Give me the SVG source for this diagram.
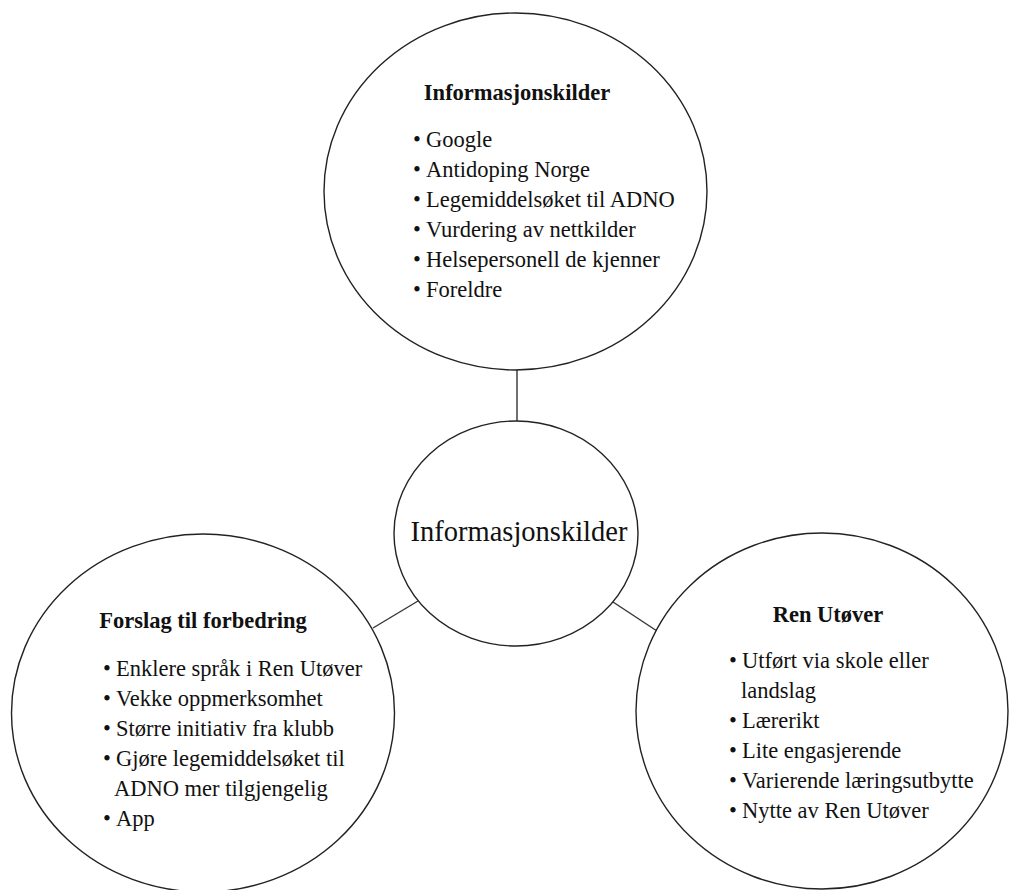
<svg xmlns="http://www.w3.org/2000/svg" width="1009" height="890" viewBox="0 0 1009 890">
<style>
.node{fill:#fff;stroke:#222;stroke-width:1.4}
.edge{stroke:#333;stroke-width:1.4;fill:none}
text{font-family:"Liberation Serif","Times New Roman",serif;fill:#111;font-size:22.5px}
.title{font-weight:bold;text-anchor:middle}
.center{font-size:28.5px;text-anchor:middle}
</style>
<rect width="1009" height="890" fill="#fff"/>
<g id="connectors">
<line class="edge" x1="517" y1="370" x2="517" y2="421"/>
<line class="edge" x1="373" y1="628" x2="418" y2="601"/>
<line class="edge" x1="613" y1="602" x2="657" y2="631"/>
</g>
<g id="node-top">
<ellipse class="node" cx="515.5" cy="191.5" rx="191.5" ry="178.5"/>
<text class="title" x="517" y="100">Informasjonskilder</text>
<text x="413" y="147">•</text><text x="426" y="147">Google</text>
<text x="413" y="177">•</text><text x="426" y="177">Antidoping Norge</text>
<text x="413" y="207">•</text><text x="426" y="207">Legemiddelsøket til ADNO</text>
<text x="413" y="237">•</text><text x="426" y="237">Vurdering av nettkilder</text>
<text x="413" y="267">•</text><text x="426" y="267">Helsepersonell de kjenner</text>
<text x="413" y="297">•</text><text x="426" y="297">Foreldre</text>
</g>
<g id="node-center">
<ellipse class="node" cx="516" cy="533.5" rx="122" ry="112.5"/>
<text class="center" x="519" y="541">Informasjonskilder</text>
</g>
<g id="node-left">
<ellipse class="node" cx="203" cy="713" rx="191.5" ry="179"/>
<text class="title" x="203" y="628">Forslag til forbedring</text>
<text x="103" y="676">•</text><text x="116" y="676">Enklere språk i Ren Utøver</text>
<text x="103" y="706">•</text><text x="116" y="706">Vekke oppmerksomhet</text>
<text x="103" y="736">•</text><text x="116" y="736">Større initiativ fra klubb</text>
<text x="103" y="766">•</text><text x="116" y="766">Gjøre legemiddelsøket til</text>
<text x="114" y="796">ADNO mer tilgjengelig</text>
<text x="103" y="826">•</text><text x="116" y="826">App</text>
</g>
<g id="node-right">
<ellipse class="node" cx="822" cy="711" rx="186" ry="178"/>
<text class="title" x="828" y="622">Ren Utøver</text>
<text x="729" y="668">•</text><text x="742" y="668">Utført via skole eller</text>
<text x="741" y="698">landslag</text>
<text x="729" y="728">•</text><text x="742" y="728">Lærerikt</text>
<text x="729" y="758">•</text><text x="742" y="758">Lite engasjerende</text>
<text x="729" y="788">•</text><text x="742" y="788">Varierende læringsutbytte</text>
<text x="729" y="818">•</text><text x="742" y="818">Nytte av Ren Utøver</text>
</g>
</svg>
